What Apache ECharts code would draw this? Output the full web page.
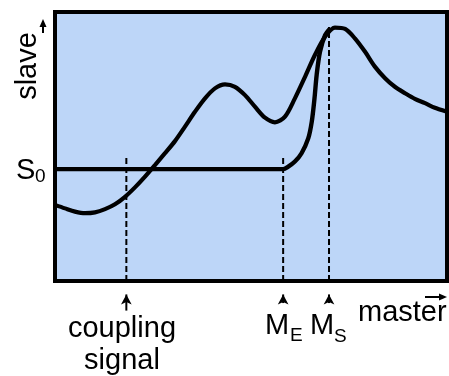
<!DOCTYPE html>
<html>
<head>
<meta charset="utf-8">
<script src="https://cdn.jsdelivr.net/npm/echarts@6/dist/echarts.min.js"></script>
<style>
  html, body { margin: 0; padding: 0; background: #fff; }
  #chart { width: 449px; height: 376px; }
</style>
</head>
<body>
<div id="chart"></div>
<script>
// master (x) / slave (y) in relative units 0..100
var slaveCurve = [
  [0, 28.3], [2.55, 27.0], [5.1, 25.8], [7.65, 25.2], [10.2, 25.5], [12.76, 26.7],
  [15.3, 28.5], [17.86, 31.3], [20.4, 34.8], [22.96, 38.8], [25.5, 43.1], [28.06, 47.5],
  [30.6, 52.0], [33.16, 57.4], [35.7, 62.9], [38.27, 67.9], [40.8, 71.6], [43.37, 73.1],
  [45.9, 72.2], [48.47, 69.1], [51.0, 64.8], [53.57, 60.7], [56.1, 59.0], [58.67, 61.1],
  [61.2, 67.9], [63.78, 75.9], [66.3, 84.0], [68.88, 90.8], [71.4, 94.2], [74.0, 93.7],
  [76.5, 90.2], [79.1, 85.2], [81.6, 79.7], [84.2, 75.4], [86.7, 72.2], [89.3, 69.8],
  [91.8, 67.7], [94.4, 66.1], [96.9, 64.4], [100, 62.9]
]
var couplingCurve = [
  [0, 41.6], [30, 41.6], [58.2, 41.6], [59.5, 42.5], [61.2, 44.4], [62.9, 47.5],
  [64.6, 53.0], [65.5, 59.2], [66.2, 67.9], [66.75, 76.6], [67.6, 85.2], [68.9, 91.4],
  [70.2, 93.9]
]
var markerNames = ['coupling signal', 'ME', 'MS']
var markerX = [18.2, 58.2, 69.9]
var markerTop = [45.7, 45.7, 94.4]
var arrowStart = [-11, -8.2, -8.2]
var arrowTip = -5.0

var chart = echarts.init(document.getElementById('chart'))

var series = [{
  name: 'slave',
  type: 'line',
  smooth: 0.3,
  showSymbol: false,
  lineStyle: { color: '#000', width: 4.2 },
  data: slaveCurve
}, {
  name: 'coupling',
  type: 'line',
  smooth: 0.3,
  showSymbol: false,
  lineStyle: { color: '#000', width: 4.4 },
  data: couplingCurve
}]

markerX.forEach(function (x, i) {
  series.push({
    name: markerNames[i],
    type: 'line',
    showSymbol: false,
    lineStyle: { color: '#000', width: 2, type: [6, 3] },
    data: [[x, 0], [x, markerTop[i]]]
  })
  series.push({
    name: markerNames[i] + ' arrow',
    type: 'line',
    clip: false,
    lineStyle: { color: '#000', width: 2 },
    itemStyle: { color: '#000' },
    data: [
      { value: [x, arrowStart[i]], symbol: 'none' },
      { value: [x, arrowTip], symbol: 'arrow', symbolSize: [8, 10] }
    ]
  })
})

var font = '"Liberation Sans", Arial, sans-serif'
function txt(x, y, s, size, align) {
  return {
    type: 'text', x: x, y: y,
    style: { text: s, font: size + 'px ' + font, fill: '#000', textAlign: align || 'left', textVerticalAlign: 'middle' }
  }
}

chart.setOption({
  animation: false,
  backgroundColor: '#fff',
  grid: {
    left: 55, right: 2, top: 12, bottom: 95,
    show: true,
    backgroundColor: '#bdd6f8',
    borderColor: '#000',
    borderWidth: 4
  },
  xAxis: { type: 'value', min: 0, max: 100, show: false },
  yAxis: { type: 'value', min: 0, max: 100, show: false },
  series: series,
  graphic: [
    // slave label + arrow
    {
      type: 'text', x: 28, y: 66, rotation: Math.PI / 2,
      style: { text: 'slave', font: '29px ' + font, fill: '#000', textAlign: 'center', textVerticalAlign: 'middle' }
    },
    { type: 'line', shape: { x1: 43, y1: 33, x2: 43, y2: 25 }, style: { stroke: '#000', lineWidth: 2 } },
    { type: 'polygon', shape: { points: [[43, 19], [39.5, 27], [46.5, 27]] }, style: { fill: '#000' } },
    // S0
    txt(16, 171, 'S', 29),
    txt(35, 177, '0', 19),
    // coupling signal
    txt(122, 329, 'coupling', 29, 'center'),
    txt(122, 361, 'signal', 29, 'center'),
    // M_E, M_S
    txt(265, 326, 'M', 29),
    txt(290, 336, 'E', 19),
    txt(310, 326, 'M', 29),
    txt(334, 337, 'S', 19),
    // master label + arrow
    txt(358, 313, 'master', 29),
    { type: 'line', shape: { x1: 425, y1: 297, x2: 440, y2: 297 }, style: { stroke: '#000', lineWidth: 2 } },
    { type: 'polygon', shape: { points: [[447, 297], [439, 293.5], [439, 300.5]] }, style: { fill: '#000' } }
  ]
})
</script>
</body>
</html>
